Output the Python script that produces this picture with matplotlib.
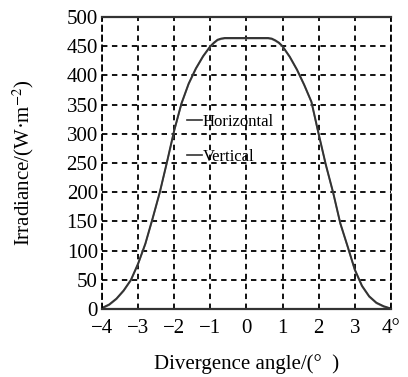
import matplotlib
matplotlib.use("Agg")
import matplotlib.pyplot as plt

plt.rcParams['font.family'] = ['Liberation Serif', 'DejaVu Serif']
plt.rcParams['mathtext.fontset'] = 'stix'

# Divergence angle (deg) and irradiance (W/m^2)
angle = [-4.0, -3.8, -3.6, -3.4, -3.2, -3.0, -2.8, -2.6, -2.4, -2.2, -2.0, -1.8,
         -1.6, -1.4, -1.2, -1.0, -0.9, -0.8, -0.7, -0.6, 0.0, 0.6, 0.7, 0.8, 0.9,
         1.0, 1.2, 1.4, 1.6, 1.8, 2.0, 2.2, 2.4, 2.6, 2.8, 3.0, 3.2, 3.4, 3.6,
         3.8, 4.0]
horizontal = [2, 8, 18, 32, 50, 78, 112, 155, 200, 252, 306, 352,
              386, 412, 433, 450, 456, 461, 463, 464, 464, 464, 463, 460, 456,
              450, 432, 410, 384, 355, 300, 247, 200, 147, 108, 68, 40, 22, 11,
              5, 1]
vertical = [1, 7, 17, 31, 49, 77, 111, 154, 199, 251, 305, 351,
            385, 411, 432, 449, 455, 460, 462, 463, 463, 463, 462, 459, 455,
            449, 431, 409, 383, 354, 299, 246, 199, 146, 107, 67, 39, 21, 10,
            4, 1]

xticks = [-4, -3, -2, -1, 0, 1, 2, 3, 4]
xlabels = ['\u22124', '\u22123', '\u22122', '\u22121', '0', '1', '2', '3', '4\u00b0']
yticks = list(range(0, 501, 50))

fig = plt.figure(figsize=(4.08, 3.77), dpi=100)
ax = fig.add_axes([0.25, 0.18, 0.708, 0.775])

ax.plot(angle, vertical, color='#8a8a8a', lw=1.2)
ax.plot(angle, horizontal, color='#333333', lw=1.4)

ax.set_xlim(-4, 4)
ax.set_ylim(0, 500)
ax.set_xticks(xticks)
ax.set_xticklabels(xlabels)
ax.set_yticks(yticks)
ax.tick_params(length=0, labelsize=15)
ax.tick_params(axis='x', pad=7)
ax.tick_params(axis='y', pad=3)

ax.grid(True, color='black', linestyle=(0, (3, 2.5)), linewidth=1.3)
for side in ['left', 'right']:
    ax.spines[side].set_linestyle((0, (3, 2.5)))
    ax.spines[side].set_linewidth(1.3)
for side in ['top', 'bottom']:
    ax.spines[side].set_linewidth(1.6)
    ax.spines[side].set_color('#333333')

# legend drawn as in the original: short dark stroke before each label
h_line, = ax.plot([], [], color='#333333', lw=1.2)
v_line, = ax.plot([], [], color='#333333', lw=1.2)
ax.legend([h_line, v_line], ['Horizontal', 'Vertical'], frameon=False,
          loc='upper left', bbox_to_anchor=(0.27, 0.69),
          handlelength=0.9, handletextpad=0.05, labelspacing=1.1,
          fontsize=12, borderaxespad=0)

ax.set_xlabel('Divergence angle/(\u00b0  )', fontsize=15, labelpad=12)
ax.set_ylabel('Irradiance/(W\u00b7m$^{-2}$)', fontsize=15, labelpad=22)

fig.savefig('out.png', dpi=100)
